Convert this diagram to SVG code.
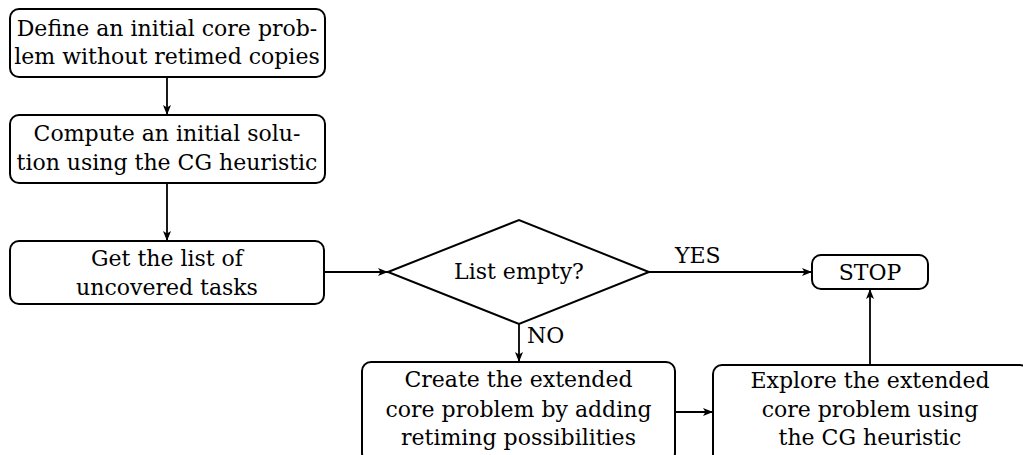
<svg xmlns="http://www.w3.org/2000/svg" width="1023" height="455" viewBox="0 0 1023 455">
<style>
.box{fill:#fff;stroke:#000;stroke-width:2}
.t{font-family:"DejaVu Serif",serif;font-size:22px;fill:#000;text-anchor:middle}
.l{font-family:"DejaVu Serif",serif;font-size:22px;fill:#000}
.c{fill:none;stroke:#000;stroke-width:1.8}
</style>
<defs>
<marker id="ah" markerUnits="userSpaceOnUse" markerWidth="11" markerHeight="9" refX="10" refY="4.5" orient="auto">
<path d="M0,0.5 L10,4.5 L0,8.5 L2.5,4.5 z" fill="#000"/>
</marker>
</defs>
<rect width="1023" height="455" fill="#fff"/>
<g id="connectors">
<line class="c" x1="167" y1="77" x2="167" y2="115" marker-end="url(#ah)"/>
<line class="c" x1="167" y1="183" x2="167" y2="241" marker-end="url(#ah)"/>
<line class="c" x1="324" y1="272" x2="388" y2="272" marker-end="url(#ah)"/>
<line class="c" x1="519" y1="324" x2="519" y2="362" marker-end="url(#ah)"/>
<line class="c" x1="649" y1="272" x2="812" y2="272" marker-end="url(#ah)"/>
<line class="c" x1="675" y1="412" x2="713" y2="412" marker-end="url(#ah)"/>
<line class="c" x1="870" y1="365" x2="870" y2="289" marker-end="url(#ah)"/>
<text class="l" x="527" y="343">NO</text>
<text class="l" x="675" y="263">YES</text>
</g>
<g id="n1">
<rect class="box" x="10" y="9" width="315" height="68" rx="9"/>
<text class="t" x="167" y="36">Define an initial core prob-</text>
<text class="t" x="167" y="64">lem without retimed copies</text>
</g>
<g id="n2">
<rect class="box" x="10" y="115" width="315" height="68" rx="9"/>
<text class="t" x="167" y="141">Compute an initial solu-</text>
<text class="t" x="167" y="170">tion using the CG heuristic</text>
</g>
<g id="n3">
<rect class="box" x="10" y="241" width="314" height="63" rx="9"/>
<text class="t" x="167" y="266">Get the list of</text>
<text class="t" x="167" y="295">uncovered tasks</text>
</g>
<g id="n4">
<polygon class="box" points="388,272 519,220 649,272 519,324"/>
<text class="t" x="519" y="279">List empty?</text>
</g>
<g id="n5">
<rect class="box" x="812" y="255" width="116" height="34" rx="9"/>
<text class="t" x="870" y="280">STOP</text>
</g>
<g id="n6">
<rect class="box" x="362" y="362" width="313" height="100" rx="9"/>
<text class="t" x="518.5" y="387">Create the extended</text>
<text class="t" x="518.5" y="417">core problem by adding</text>
<text class="t" x="518.5" y="445">retiming possibilities</text>
</g>
<g id="n7">
<rect class="box" x="713" y="365" width="316" height="100" rx="9"/>
<text class="t" x="870" y="388">Explore the extended</text>
<text class="t" x="870" y="417">core problem using</text>
<text class="t" x="870" y="445">the CG heuristic</text>
</g>
</svg>
